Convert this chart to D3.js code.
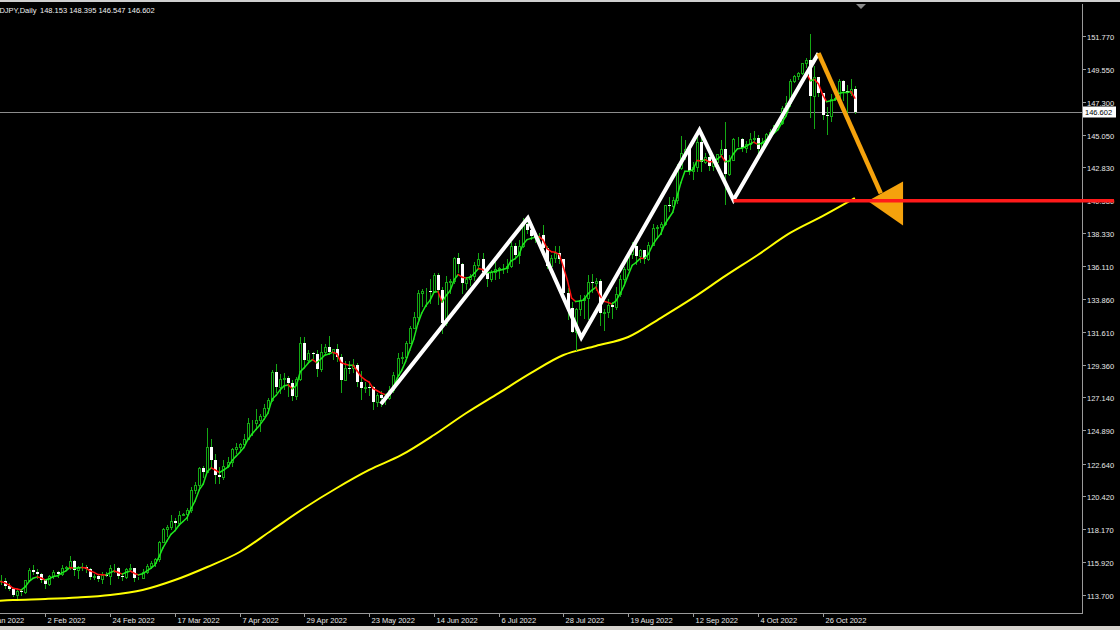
<!DOCTYPE html>
<html><head><meta charset="utf-8">
<script src="https://cdn.jsdelivr.net/npm/d3@7"></script>
<style>html,body{margin:0;padding:0;background:#000;overflow:hidden}text{font-family:"Liberation Sans",Arial,sans-serif}</style>
</head><body>
<svg id="c" width="1120" height="630"></svg>
<script>
// ---- data (bar index 0 = 11 Jan 2022) ----
const opens=[115.28,115.29,114.64,114.18,114.20,114.60,114.62,114.31,114.10,113.68,113.98,113.88,114.67,115.35,115.26,115.10,114.68,114.42,114.98,115.23,115.09,115.55,115.57,116.03,115.41,115.57,115.60,115.48,114.93,115.00,114.77,115.06,115.00,115.53,115.54,115.00,114.89,115.47,115.49,114.82,114.85,115.28,115.67,115.87,116.13,117.30,118.15,118.29,118.73,118.57,119.16,119.20,119.45,120.84,121.15,122.32,122.05,123.79,122.86,121.87,121.70,122.50,122.77,123.61,123.75,123.96,124.34,125.37,125.37,125.62,125.89,126.40,126.94,128.88,127.83,128.40,128.50,128.11,127.22,128.39,130.82,129.70,130.18,130.13,129.09,130.21,130.55,130.27,130.44,129.93,128.36,129.18,129.16,129.37,128.20,127.79,127.88,127.87,126.86,127.31,127.11,127.11,127.62,128.67,129.85,129.89,130.86,131.87,132.62,134.24,134.38,134.42,134.41,135.47,134.47,132.18,134.98,135.06,136.65,136.24,134.94,135.20,135.43,136.14,136.59,135.72,135.22,135.67,135.86,135.93,135.98,136.11,137.43,136.86,137.43,138.96,138.56,138.15,138.20,138.20,137.34,136.12,136.67,136.95,136.56,134.26,133.26,131.58,133.19,133.80,133.90,135.00,134.96,135.06,132.90,132.97,133.45,133.28,134.19,135.18,135.88,136.92,137.47,136.75,137.16,136.57,137.54,138.72,138.76,138.95,140.23,140.20,140.58,142.78,143.78,144.10,142.58,142.86,144.54,143.17,143.53,142.91,143.19,143.73,144.07,142.39,143.35,144.74,144.78,144.17,144.44,144.74,144.81,144.10,144.58,145.11,145.26,145.72,145.86,146.89,147.22,148.72,149.02,149.25,149.90,150.15,147.66,148.99,147.91,146.36,146.30,147.46,147.55,148.72,148.04,147.92,148.153];
const highs=[115.37,115.30,114.70,114.49,114.78,115.06,114.85,114.52,114.12,114.09,114.10,114.71,115.49,115.69,115.43,115.18,114.74,115.05,115.40,115.34,115.69,115.67,116.34,116.07,115.64,115.87,115.71,115.55,115.12,115.04,115.25,115.26,115.75,115.76,115.58,115.20,115.53,115.80,115.52,114.90,115.46,115.81,116.01,116.22,117.36,118.23,118.45,119.13,118.90,119.40,119.30,119.63,121.03,121.41,122.43,122.44,125.09,124.30,123.28,122.42,122.91,123.05,123.67,124.05,124.05,124.68,125.77,125.61,126.32,126.00,126.68,127.07,129.00,129.41,128.71,128.80,128.62,128.32,128.51,131.25,131.26,130.36,130.26,130.37,130.80,130.80,131.35,130.46,130.80,130.13,129.60,129.60,129.79,129.49,128.94,128.18,128.13,127.93,127.47,127.57,127.21,127.90,128.88,130.14,130.23,130.98,131.98,132.99,134.48,134.56,134.58,135.19,135.59,135.60,134.68,135.44,135.18,136.71,136.99,136.33,135.38,135.58,136.38,137.00,136.98,135.90,135.83,136.39,136.00,136.21,136.58,137.75,137.68,137.88,139.39,139.04,138.66,138.32,138.38,138.88,137.49,136.83,137.47,137.46,136.58,134.58,133.62,133.25,134.09,134.12,135.50,135.58,135.30,135.22,133.20,133.87,133.63,134.68,135.48,136.02,137.00,137.70,137.64,137.26,137.19,137.74,138.96,138.89,139.08,140.23,140.80,140.77,143.08,144.99,144.68,144.22,143.17,144.96,144.95,143.81,143.88,143.45,143.73,144.70,145.90,143.67,144.79,144.87,144.81,144.63,145.15,145.28,145.00,144.81,145.14,145.43,145.73,145.92,146.97,147.66,148.86,149.10,149.30,149.89,150.29,151.94,149.71,149.00,147.92,146.95,147.84,147.60,148.83,148.80,148.42,148.85,148.395];
const lows=[114.93,114.47,113.93,113.69,114.16,114.40,114.17,113.99,113.62,113.47,113.68,113.79,114.65,115.08,114.86,114.55,114.15,114.33,114.87,114.90,115.03,115.44,115.48,115.02,114.87,115.40,115.26,114.80,114.75,114.61,114.52,114.96,114.41,115.28,114.87,114.70,114.81,115.37,114.65,114.75,114.84,115.19,115.52,115.68,116.03,117.27,117.70,118.16,118.25,118.46,119.10,118.82,119.35,120.62,120.99,121.70,122.03,122.41,121.28,121.28,121.57,122.40,122.46,123.38,123.56,123.91,124.29,124.56,125.02,124.87,125.85,126.33,126.93,127.51,127.45,127.72,127.26,126.95,127.03,128.32,129.30,129.56,129.81,128.63,128.91,130.11,130.09,129.79,129.65,127.52,128.33,128.82,128.87,127.90,127.03,127.48,127.31,126.36,126.53,126.55,126.70,127.06,127.50,128.57,129.50,129.78,130.82,131.85,132.48,133.34,133.39,133.60,134.34,133.52,131.50,132.10,134.27,134.93,135.70,134.27,134.53,134.82,135.17,135.92,135.57,134.74,135.06,135.22,135.28,135.64,135.66,136.03,136.68,136.29,137.40,138.38,137.91,137.74,137.87,137.05,135.99,135.82,136.38,136.29,134.18,132.51,131.60,130.39,132.76,132.53,132.52,134.36,134.47,132.06,131.73,132.62,132.56,133.16,134.02,134.93,135.80,136.63,136.20,136.37,136.32,136.48,137.50,138.03,138.30,138.90,139.87,140.11,140.36,142.69,143.37,142.40,142.04,142.56,142.55,143.13,142.65,142.67,143.00,143.56,140.35,142.30,143.30,144.30,143.90,143.87,144.05,144.55,143.53,143.93,144.34,144.86,145.23,145.40,145.75,146.42,147.00,148.65,148.82,149.17,149.69,146.23,145.52,147.70,146.12,145.11,145.95,147.40,147.35,147.42,146.25,147.72,146.547];
const closes=[115.29,114.64,114.18,114.20,114.60,114.62,114.31,114.10,113.68,113.98,113.88,114.67,115.35,115.26,115.10,114.68,114.42,114.98,115.23,115.09,115.55,115.57,116.03,115.41,115.57,115.60,115.48,114.93,115.00,114.77,115.06,115.00,115.53,115.54,115.00,114.89,115.47,115.49,114.82,114.85,115.28,115.67,115.87,116.13,117.30,118.15,118.29,118.73,118.57,119.16,119.20,119.45,120.84,121.15,122.32,122.05,123.79,122.86,121.87,121.70,122.50,122.77,123.61,123.75,123.96,124.34,125.37,125.37,125.62,125.89,126.40,126.94,128.88,127.83,128.40,128.50,128.11,127.22,128.39,130.82,129.70,130.18,130.13,129.09,130.21,130.55,130.27,130.44,129.93,128.36,129.18,129.16,129.37,128.20,127.79,127.88,127.87,126.86,127.31,127.11,127.11,127.62,128.67,129.85,129.89,130.86,131.87,132.62,134.24,134.38,134.42,134.41,135.47,134.47,132.18,134.98,135.06,136.65,136.24,134.94,135.20,135.43,136.14,136.59,135.72,135.22,135.67,135.86,135.93,135.98,136.11,137.43,136.86,137.43,138.96,138.56,138.15,138.20,138.20,137.34,136.12,136.67,136.95,136.56,134.26,133.26,131.58,133.19,133.80,133.90,135.00,134.96,135.06,132.90,132.97,133.45,133.28,134.19,135.18,135.88,136.92,137.47,136.75,137.16,136.57,137.54,138.72,138.76,138.95,140.23,140.20,140.58,142.78,143.78,144.10,142.58,142.86,144.54,143.17,143.53,142.91,143.19,143.73,144.07,142.39,143.35,144.74,144.78,144.17,144.44,144.74,144.81,144.10,144.58,145.11,145.26,145.72,145.86,146.89,147.22,148.72,149.02,149.25,149.90,150.15,147.66,148.99,147.91,146.36,146.30,147.46,147.55,148.72,148.04,147.92,148.15,146.602];

// long moving average (yellow), read at every 8th bar
const yellowIdx=[0,8,16,24,32,40,48,56,64,72,80,88,96,104,112,120,128,136,144,152,160,168,176,184,192,200,208,216];
const yellowVal=[113.20,113.34,113.41,113.51,113.68,114.02,114.70,115.59,116.61,118.11,119.61,120.97,122.20,123.22,124.58,126.08,127.44,128.81,130.03,130.65,131.26,132.55,133.92,135.42,136.85,138.35,139.50,140.73];

// axis ticks
const xTickIdx=[0,16,32,48,64,80,96,112,128,144,160,176,192,208];
const xTickLabels=["11 Jan 2022","2 Feb 2022","24 Feb 2022","17 Mar 2022","7 Apr 2022","29 Apr 2022","23 May 2022","14 Jun 2022","6 Jul 2022","28 Jul 2022","19 Aug 2022","12 Sep 2022","4 Oct 2022","26 Oct 2022"];
const yTicks=[113.70,115.92,118.17,120.42,122.64,124.89,127.14,129.36,131.61,133.86,136.11,138.33,140.58,142.83,145.05,147.30,149.55,151.77];

// annotations (bar index, price)
const zigIdx=[98.9,135.2,148.4,177.6,186.0,207.0];
const zigPrice=[126.70,139.37,131.22,145.36,140.60,150.60];
const supportIdx=[186.0,280];
const supportPrice=[140.55,140.55];
const arrowIdx=[207.0,222.4];
const arrowPrice=[150.60,141.05];
const headIdx=[219.2,227.9,227.9];
const headPrice=[140.53,141.85,138.85];

const symbol="USDJPY,Daily";
const lastBar=[148.153,148.395,146.547,146.602];
const lastPrice=146.602;

// ---- drawing ----
const svg=d3.select("#c");
const W=1120,H=630, plotR=1082, plotB=613;
const x=d3.scaleLinear().domain([16,208]).range([45.4,822.5]);
const y=d3.scaleLinear().domain([113.70,151.77]).range([594.7,36]);

svg.append("rect").attr("width",W).attr("height",H).attr("fill","#000");
svg.append("defs").append("clipPath").attr("id","plot").append("rect").attr("x",0).attr("y",4).attr("width",plotR).attr("height",plotB-4);

const g=svg.append("g").attr("clip-path","url(#plot)");

// yellow MA
const yl=d3.line().x(d=>x(d[0])).y(d=>y(d[1])).curve(d3.curveMonotoneX);
g.append("path").datum(yellowIdx.map((v,i)=>[v,yellowVal[i]]))
 .attr("d",yl).attr("fill","none").attr("stroke","#ffff00").attr("stroke-width",2);

// current price line
g.append("line").attr("x1",0).attr("x2",plotR).attr("y1",Math.round(y(lastPrice))+0.5).attr("y2",Math.round(y(lastPrice))+0.5)
 .attr("stroke","#8c8c8c").attr("stroke-width",1);

// candles
const bars=closes.map((c,i)=>({i,o:opens[i],h:highs[i],l:lows[i],c}));
const cg=g.append("g").attr("shape-rendering","crispEdges");
const wickCol="#14a814";
bars.forEach(b=>{
  const cx=Math.round(x(b.i));
  cg.append("line").attr("x1",cx+0.5).attr("x2",cx+0.5).attr("y1",Math.round(y(b.h))).attr("y2",Math.round(y(b.l))+1)
    .attr("stroke",wickCol).attr("stroke-width",1);
  const top=Math.round(y(Math.max(b.o,b.c))), bot=Math.round(y(Math.min(b.o,b.c)));
  if(b.c>=b.o){
    cg.append("rect").attr("x",cx-0.5).attr("y",top+0.5).attr("width",2).attr("height",Math.max(bot-top,0))
      .attr("fill","#000").attr("stroke",wickCol).attr("stroke-width",1);
  } else {
    cg.append("rect").attr("x",cx-1).attr("y",top).attr("width",3).attr("height",Math.max(bot-top,1))
      .attr("fill","#ffffff");
  }
});

// short MA (green up / red down)
const period=5, k=2/(period+1);
const ema=[]; closes.forEach((c,i)=>ema.push(i===0?c:ema[i-1]+k*(c-ema[i-1])));
const mg=g.append("g");
for(let i=1;i<ema.length;i++){
  mg.append("line").attr("x1",x(i-1)).attr("y1",y(ema[i-1])).attr("x2",x(i)).attr("y2",y(ema[i]))
    .attr("stroke",ema[i]>=ema[i-1]?"#1ee81e":"#ff1010").attr("stroke-width",1.5).attr("stroke-linecap","round");
}

// zigzag
const zl=d3.line().x(d=>x(d[0])).y(d=>y(d[1]));
g.append("path").datum(zigIdx.map((v,i)=>[v,zigPrice[i]])).attr("d",zl)
 .attr("fill","none").attr("stroke","#ffffff").attr("stroke-width",4).attr("stroke-linejoin","miter");

// orange arrow
g.append("path").datum(arrowIdx.map((v,i)=>[v,arrowPrice[i]])).attr("d",zl)
 .attr("fill","none").attr("stroke","#f5a20c").attr("stroke-width",4.5);
g.append("path").attr("d",d3.line()(headIdx.map((v,i)=>[x(v),y(headPrice[i])]))+"Z").attr("fill","#f5a20c");

// axes frame
svg.append("line").attr("x1",plotR+0.5).attr("x2",plotR+0.5).attr("y1",4).attr("y2",plotB+1).attr("stroke","#9a9a9a");
svg.append("line").attr("x1",0).attr("x2",plotR+1).attr("y1",plotB+0.5).attr("y2",plotB+0.5).attr("stroke","#9a9a9a");

// right axis
const ya=svg.append("g");
yTicks.forEach(t=>{
  const yy=Math.round(y(t))+0.5;
  ya.append("line").attr("x1",plotR).attr("x2",plotR+4).attr("y1",yy).attr("y2",yy).attr("stroke","#9a9a9a");
  ya.append("text").attr("x",plotR+5).attr("y",yy+3).attr("fill","#e8e8e8").attr("font-size","7.5px").text(d3.format(".3f")(t));
});

// bottom axis
const xa=svg.append("g");
xTickIdx.forEach((t,i)=>{
  const xx=Math.round(x(t))+0.5;
  xa.append("line").attr("x1",xx).attr("x2",xx).attr("y1",plotB).attr("y2",plotB+4).attr("stroke","#9a9a9a");
  xa.append("text").attr("x",xx+2).attr("y",622.5).attr("fill","#e8e8e8").attr("font-size","7.5px").text(xTickLabels[i]);
});

// support line (over axis)
svg.append("path").datum(supportIdx.map((v,i)=>[v,supportPrice[i]])).attr("d",zl)
 .attr("fill","none").attr("stroke","#ff1a1a").attr("stroke-width",3.5);

// last price box
const ly=Math.round(y(lastPrice));
svg.append("rect").attr("x",plotR+1).attr("y",ly-5.5).attr("width",33).attr("height",11).attr("fill","#fff");
svg.append("text").attr("x",plotR+3).attr("y",ly+3).attr("fill","#000").attr("font-size","7.5px").text(d3.format(".3f")(lastPrice));

// title
const tt=svg.append("text").attr("x",-11).attr("y",13).attr("fill","#f0f0f0").attr("font-size","7.5px");
tt.append("tspan").text(symbol);
tt.append("tspan").attr("x",40).text(lastBar.map(d3.format(".3f")).join(" "));

// chart-shift marker
svg.append("path").attr("d","M856,4 L866,4 L861,9 Z").attr("fill","#8a8a8a");

// window chrome
svg.append("rect").attr("x",0).attr("y",0).attr("width",W).attr("height",2).attr("fill","#cfcfcf");
svg.append("rect").attr("x",0).attr("y",626).attr("width",W).attr("height",4).attr("fill","#d6d3ce");
</script>
</body></html>
